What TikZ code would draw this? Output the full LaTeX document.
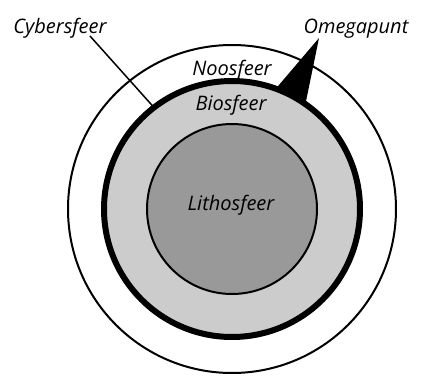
\documentclass[tikz,border=0pt]{standalone}
\usepackage{fontspec}
\setmainfont{Open Sans}
\usetikzlibrary{calc}
\begin{document}
\begin{tikzpicture}[x=1pt,y=1pt,
  lbl/.style={font=\fontsize{20}{24}\selectfont\itshape, inner sep=0pt, anchor=base},
  thinring/.style={draw=black, line width=2pt},
  bioring/.style={draw=black, line width=6pt, fill=black!20},
  lithoring/.style={draw=black, line width=2pt, fill=black!40}]
\useasboundingbox[fill=white] (0,0) rectangle (421,376);
\coordinate (c) at (232,167);
% outer noosphere
\draw[thinring] (c) circle[radius=164];
% omega pointer
\coordinate (otip) at (319,338);
\coordinate (ob1) at ($(c)+(70:128)$);
\coordinate (ob2) at ($(c)+(55:128)$);
\fill[black] (otip) -- (ob1) -- (ob2) -- cycle;
% biosphere
\draw[bioring] (c) circle[radius=128];
% lithosphere
\draw[lithoring] (c) circle[radius=85];
% cyber line
\coordinate (cyend) at ($(c)+(127.6:130)$);
\node[lbl] (cyber) at (60,343) {Cybersfeer};
\coordinate (cystart) at (90,340);
\draw[line width=1.5pt] (cystart) -- (cyend);
\node[lbl] (omega) at (356,343) {Omegapunt};
\node[lbl] (noo) at (232,301) {Noosfeer};
\node[lbl] (bio) at (231,266) {Biosfeer};
\node[lbl] (litho) at (231,166) {Lithosfeer};
\end{tikzpicture}
\end{document}
